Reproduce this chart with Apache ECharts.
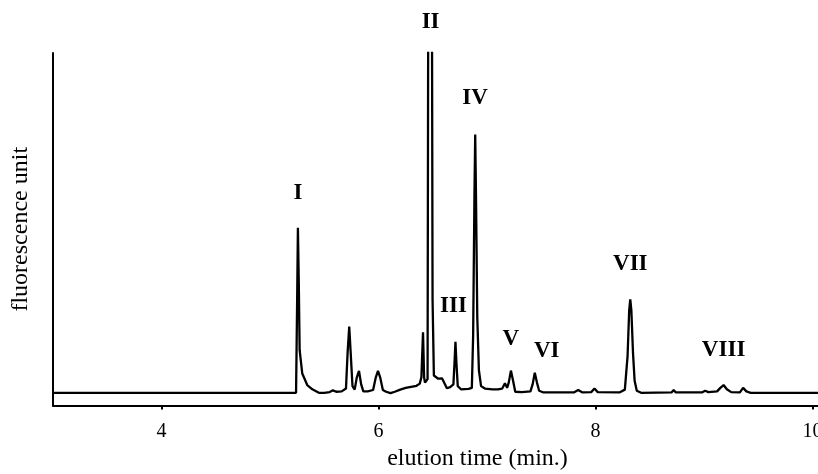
<!DOCTYPE html>
<html>
<head>
<meta charset="utf-8">
<script src="https://cdn.jsdelivr.net/npm/echarts@6/dist/echarts.min.js"></script>
<style>
  html, body { margin: 0; padding: 0; background: #fff; }
  #main { width: 818px; height: 474px; }
</style>
</head>
<body>
<div id="main"></div>
<script>
// elution time (min.) and detector signal
var times = [
  3.00, 5.24, 5.25, 5.257, 5.265, 5.273, 5.297, 5.343, 5.39, 5.45, 5.50, 5.55, 5.58, 5.61,
  5.66, 5.70, 5.715, 5.73, 5.745, 5.76, 5.78, 5.80, 5.82, 5.84, 5.86, 5.90, 5.95, 5.975, 5.995, 6.015,
  6.04, 6.07, 6.11, 6.15, 6.20, 6.25, 6.30, 6.35, 6.38, 6.395, 6.41, 6.42, 6.428, 6.445, 6.452, 6.46,
  6.49, 6.498, 6.51, 6.52, 6.55, 6.585, 6.63, 6.66, 6.69, 6.70, 6.709, 6.718, 6.73, 6.76, 6.83, 6.86,
  6.872, 6.884, 6.891, 6.898, 6.91, 6.925, 6.945, 6.98, 7.05, 7.10, 7.14, 7.165, 7.185, 7.20, 7.22, 7.24,
  7.26, 7.32, 7.40, 7.42, 7.44, 7.46, 7.48, 7.52, 7.80, 7.84, 7.88, 7.96, 7.99, 8.02, 8.22, 8.27,
  8.295, 8.31, 8.32, 8.33, 8.345, 8.36, 8.38, 8.42, 8.70, 8.72, 8.74, 8.98, 9.01, 9.04, 9.12, 9.15,
  9.18, 9.21, 9.25, 9.33, 9.36, 9.39, 9.43, 10.05
];
var signal = [
  3.6, 3.6, 30, 50.4, 35, 15.7, 9.1, 5.8, 4.6, 3.6, 3.6, 3.8, 4.3, 3.9,
  4.0, 4.8, 15, 22.4, 14, 5.5, 4.5, 8, 9.8, 6, 4.0, 4.0, 4.4, 8, 9.8, 8,
  4.4, 3.9, 3.5, 3.9, 4.5, 5.0, 5.3, 5.6, 6.2, 8, 20.8, 8, 6.5, 7, 7.5, 150,
  150, 30, 8.5, 8.0, 7.6, 7.7, 4.9, 5.2, 6, 12, 18.1, 12, 5.5, 4.6, 4.7, 5.0,
  20, 60, 76.9, 60, 25, 10, 5.5, 4.8, 4.6, 4.6, 4.8, 6.3, 5.0, 6.5, 9.9, 7,
  3.9, 3.8, 4.0, 6, 9.3, 6.5, 4.2, 3.7, 3.7, 4.4, 3.7, 3.8, 4.8, 3.8, 3.7, 4.5,
  14, 27, 30.1, 27, 15, 7, 4.2, 3.6, 3.7, 4.4, 3.7, 3.7, 4.2, 3.8, 4.0, 5.0,
  5.8, 4.6, 3.8, 3.7, 5.0, 4.0, 3.6, 3.6
];

// peak labels: name, retention time of the label, label height
var peakNames = ['I', 'II', 'III', 'IV', 'V', 'VI', 'VII', 'VIII'];
var peakTimes = [5.257, 6.48, 6.69, 6.89, 7.22, 7.55, 8.32, 9.18];
var peakLabelY = [60.3, 108.9, 28.1, 87.1, 18.9, 15.4, 40.1, 15.6];

var xTicks = [4, 6, 8, 10];

var trace = times.map(function (t, i) { return [t, signal[i]]; });
var labels = peakNames.map(function (n, i) { return { value: [peakTimes[i], peakLabelY[i]], name: n }; });

var serif = '"Liberation Serif", "Times New Roman", serif';

var myChart = echarts.init(document.getElementById('main'), null, { renderer: 'canvas' });
myChart.setOption({
  animation: false,
  backgroundColor: '#fff',
  grid: {
    left: 53, right: 0, top: 53, bottom: 68.5,
    containLabel: false,
    outerBoundsMode: 'none'
  },
  xAxis: {
    type: 'value',
    min: 3,
    max: 10.05,
    name: 'elution time (min.)',
    nameLocation: 'middle',
    nameGap: 40,
    nameTextStyle: { fontFamily: serif, fontSize: 24, color: '#000', padding: [0, 0, 0, 84] },
    axisLine: { onZero: false, lineStyle: { color: '#000', width: 2 } },
    axisTick: { show: true, length: 4, lineStyle: { color: '#000', width: 2 }, customValues: xTicks },
    axisLabel: { fontFamily: serif, fontSize: 20, color: '#000', margin: 16, customValues: xTicks, showMaxLabel: true },
    splitLine: { show: false }
  },
  yAxis: {
    type: 'value',
    min: 0,
    max: 100,
    name: 'fluorescence unit',
    nameLocation: 'middle',
    nameGap: 20,
    nameTextStyle: { fontFamily: serif, fontSize: 24, color: '#000' },
    axisLine: { show: true, onZero: false, lineStyle: { color: '#000', width: 2 } },
    axisTick: { show: false },
    axisLabel: { show: false },
    splitLine: { show: false }
  },
  series: [
    {
      type: 'line',
      data: trace,
      showSymbol: false,
      clip: true,
      lineStyle: { color: '#000', width: 2.3 },
      z: 3
    },
    {
      type: 'scatter',
      data: labels,
      clip: false,
      symbolSize: 1,
      itemStyle: { color: 'rgba(0,0,0,0)', opacity: 1 },
      label: {
        show: true,
        position: 'inside',
        formatter: '{b}',
        fontFamily: serif,
        fontWeight: 'bold',
        fontSize: 23,
        color: '#000'
      },
      z: 4
    }
  ]
});
</script>
</body>
</html>
